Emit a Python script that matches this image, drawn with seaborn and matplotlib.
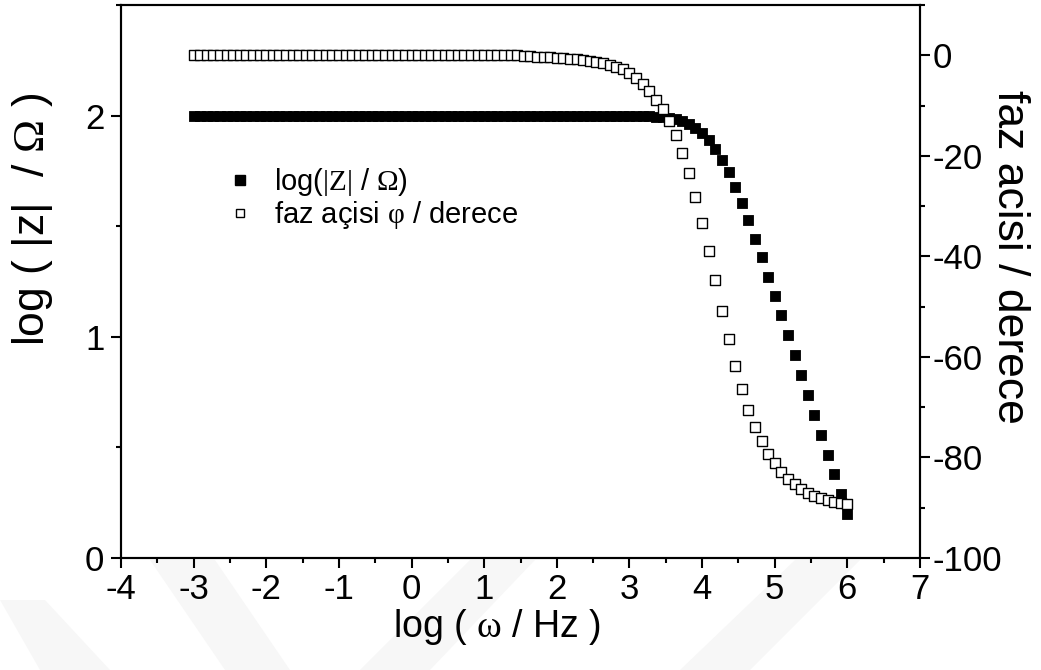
import matplotlib
matplotlib.use("Agg")
import matplotlib.pyplot as plt
import pandas as pd
import seaborn as sns
from matplotlib.lines import Line2D
from matplotlib.patches import Polygon
from matplotlib.ticker import MultipleLocator

# log10 of angular frequency (11 points per decade, 1e-3 .. 1e6)
log_freq = [
    -3.000, -2.909, -2.818, -2.727, -2.636, -2.545, -2.455, -2.364, -2.273, -2.182, -2.091,
    -2.000, -1.909, -1.818, -1.727, -1.636, -1.545, -1.455, -1.364, -1.273, -1.182, -1.091,
    -1.000, -0.909, -0.818, -0.727, -0.636, -0.545, -0.455, -0.364, -0.273, -0.182, -0.091,
    0.000, 0.091, 0.182, 0.273, 0.364, 0.455, 0.545, 0.636, 0.727, 0.818, 0.909,
    1.000, 1.091, 1.182, 1.273, 1.364, 1.455, 1.545, 1.636, 1.727, 1.818, 1.909,
    2.000, 2.091, 2.182, 2.273, 2.364, 2.455, 2.545, 2.636, 2.727, 2.818, 2.909,
    3.000, 3.091, 3.182, 3.273, 3.364, 3.455, 3.545, 3.636, 3.727, 3.818, 3.909,
    4.000, 4.091, 4.182, 4.273, 4.364, 4.455, 4.545, 4.636, 4.727, 4.818, 4.909,
    5.000, 5.091, 5.182, 5.273, 5.364, 5.455, 5.545, 5.636, 5.727, 5.818, 5.909,
    6.000,
]

# log10(|Z| / Ohm)
log_z = [
    2.000, 2.000, 2.000, 2.000, 2.000, 2.000, 2.000, 2.000, 2.000, 2.000, 2.000,
    2.000, 2.000, 2.000, 2.000, 2.000, 2.000, 2.000, 2.000, 2.000, 2.000, 2.000,
    2.000, 2.000, 2.000, 2.000, 2.000, 2.000, 2.000, 2.000, 2.000, 2.000, 2.000,
    2.000, 2.000, 2.000, 2.000, 2.000, 2.000, 2.000, 2.000, 2.000, 2.000, 2.000,
    2.000, 2.000, 2.000, 2.000, 2.000, 2.000, 2.000, 2.000, 2.000, 2.000, 2.000,
    2.000, 2.000, 2.000, 2.000, 2.000, 2.000, 2.000, 2.000, 2.000, 2.000, 2.000,
    2.000, 2.000, 2.000, 2.000, 1.995, 1.993, 1.990, 1.984, 1.976, 1.962, 1.946,
    1.922, 1.891, 1.849, 1.801, 1.743, 1.675, 1.603, 1.526, 1.444, 1.360, 1.272,
    1.186, 1.097, 1.007, 0.917, 0.827, 0.738, 0.647, 0.558, 0.467, 0.378, 0.288,
    0.200,
]

# phase angle in degrees
phase_deg = [
    0.0, 0.0, 0.0, 0.0, 0.0, 0.0, 0.0, 0.0, 0.0, 0.0, 0.0,
    0.0, 0.0, 0.0, 0.0, 0.0, 0.0, 0.0, 0.0, 0.0, 0.0, 0.0,
    0.0, 0.0, 0.0, 0.0, 0.0, 0.0, 0.0, 0.0, 0.0, 0.0, 0.0,
    0.0, 0.0, 0.0, 0.0, 0.0, 0.0, 0.0, 0.0, 0.0, 0.0, 0.0,
    0.0, 0.0, 0.0, 0.0, 0.0, 0.0, -0.2, -0.2, -0.3, -0.3, -0.4,
    -0.5, -0.6, -0.7, -0.8, -0.9, -1.1, -1.3, -1.6, -1.9, -2.3, -2.8,
    -3.6, -4.6, -5.8, -7.1, -8.8, -10.6, -13.1, -15.9, -19.4, -23.5, -28.1,
    -33.3, -39.0, -44.8, -50.8, -56.4, -61.8, -66.4, -70.5, -73.9, -76.8, -79.3,
    -81.2, -82.9, -84.3, -85.3, -86.3, -87.0, -87.6, -88.0, -88.4, -88.8, -89.0,
    -89.2,
]

label_z = r"log($\mathrm{|Z|}$ / $\Omega$)"
label_phase = r"faz açisi $\mathrm{\varphi}$ / derece"

sns.set_theme(style="ticks")
plt.rcParams["font.family"] = ["Liberation Sans", "DejaVu Sans"]
plt.rcParams["mathtext.fontset"] = "custom"
plt.rcParams["mathtext.rm"] = "Liberation Serif"
plt.rcParams["mathtext.it"] = "Liberation Serif:italic"
plt.rcParams["mathtext.bf"] = "Liberation Serif:bold"
plt.rcParams["axes.unicode_minus"] = False
plt.rcParams["text.color"] = "black"
plt.rcParams["axes.labelcolor"] = "black"
plt.rcParams["xtick.color"] = "black"
plt.rcParams["ytick.color"] = "black"
plt.rcParams["axes.edgecolor"] = "black"
plt.rcParams["axes.linewidth"] = 1.5

W, H = 1041, 670
fig = plt.figure(figsize=(W / 100, H / 100), dpi=100)

# faint diagonal band pattern along the lower page edge
bands = [
    [(0, 600), (45, 600), (110, 670), (40, 670)],
    [(150, 560), (215, 560), (290, 670), (225, 670)],
    [(470, 560), (535, 560), (430, 670), (360, 670)],
    [(795, 560), (860, 560), (750, 670), (680, 670)],
]
for pts in bands:
    fig.add_artist(Polygon([(px / W, 1 - py / H) for px, py in pts],
                           closed=True, transform=fig.transFigure,
                           facecolor="#f7f7f7", edgecolor="none", zorder=-1))

ax = fig.add_axes([121 / W, 1 - 558 / H, (920 - 121) / W, (558 - 5) / H])
ax.set_facecolor("none")
ax2 = ax.twinx()

df = pd.DataFrame({"log_freq": log_freq, "log_z": log_z, "phase": phase_deg})

sns.scatterplot(data=df, x="log_freq", y="log_z", ax=ax, marker="s", s=55,
                color="black", edgecolor="black", linewidth=0.6, legend=False,
                zorder=3)
sns.scatterplot(data=df, x="log_freq", y="phase", ax=ax2, marker="s", s=55,
                color="white", edgecolor="black", linewidth=1.0, legend=False,
                zorder=3)

ax.set_xlim(-4, 7)
ax.set_ylim(0, 2.5)
ax2.set_ylim(-100, 10)

ax.xaxis.set_major_locator(MultipleLocator(1))
ax.xaxis.set_minor_locator(MultipleLocator(0.5))
ax.yaxis.set_major_locator(MultipleLocator(1))
ax.yaxis.set_minor_locator(MultipleLocator(0.5))
ax2.yaxis.set_major_locator(MultipleLocator(20))
ax2.yaxis.set_minor_locator(MultipleLocator(10))

for a in (ax, ax2):
    a.tick_params(which="major", direction="out", length=7, width=1.5,
                  labelsize=25, color="black", labelcolor="black")
    a.tick_params(which="minor", direction="out", length=3.6, width=1.5,
                  color="black")
    for sp in a.spines.values():
        sp.set_visible(True)
        sp.set_color("black")
        sp.set_linewidth(1.5)
ax.tick_params(axis="x", which="both", top=False, pad=4)
ax.tick_params(axis="y", which="both", right=False, pad=5)
ax2.tick_params(axis="y", which="both", left=False, right=True, pad=2)

ax.set_xlabel(r"log ( $\mathrm{\omega}$ / Hz )", fontsize=27, color="black")
ax.xaxis.set_label_coords((497 - 121) / 799, (558 - 627) / 553)
ax.xaxis.label.set_va("center")

ax.set_ylabel(r"log ( |z|  / $\Omega$ )", fontsize=32, color="black")
ax.yaxis.set_label_coords((32 - 121) / 799, (558 - 219) / 553)
ax.yaxis.label.set_va("center")
ax.yaxis.label.set_ha("center")

ax2.set_ylabel("faz acisi / derece", fontsize=32, rotation=270, color="black")
ax2.yaxis.set_label_coords((1010 - 121) / 799, (558 - 257) / 553)
ax2.yaxis.label.set_va("center")
ax2.yaxis.label.set_ha("center")

handles = [
    Line2D([], [], linestyle="none", marker="s", markersize=7,
           markerfacecolor="black", markeredgecolor="black"),
    Line2D([], [], linestyle="none", marker="s", markersize=6,
           markerfacecolor="white", markeredgecolor="black", markeredgewidth=1.0),
]
leg = ax2.legend(handles, [label_z, label_phase], loc="upper left",
                 bbox_to_anchor=(226 / W, 1 - 166 / H), bbox_transform=fig.transFigure,
                 frameon=False, fontsize=21, handlelength=0.95, handletextpad=0.7,
                 labelspacing=0.05, borderpad=0, borderaxespad=0)
for t in leg.get_texts():
    t.set_color("black")

fig.savefig("out.png", dpi=100)
